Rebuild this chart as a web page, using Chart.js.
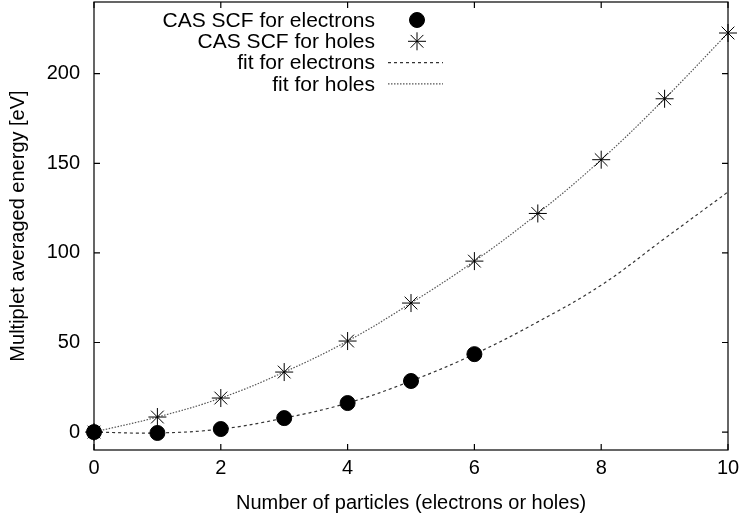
<!DOCTYPE html>
<html>
<head>
<meta charset="utf-8">
<script src="https://cdn.jsdelivr.net/npm/chart.js@4"></script>
<style>
  html, body { margin: 0; padding: 0; background: #fff; }
  #wrap { width: 741px; height: 520px; }
</style>
</head>
<body>
<div id="wrap"><canvas id="chart"></canvas></div>
<script>
// values
const particles = [0, 1, 2, 3, 4, 5, 6, 7, 8, 9, 10];
const electronCas = [0, -0.5, 1.7, 7.8, 16.2, 28.5, 43.5];
const holeCas = [0, 8.4, 19, 33.5, 50.8, 72, 95.4, 122, 152, 186, 222.7];
const electronFit = [0, -0.5, 1.7, 7.8, 16.2, 28.5, 43.5, 61.5, 82, 108, 134];
const holeFit = [0, 8.4, 19, 33.5, 50.8, 72, 95.4, 122, 152, 186, 222.7];
const xTicks = [0, 2, 4, 6, 8, 10];
const yTicks = [0, 50, 100, 150, 200];
const legendLabels = ["CAS SCF for electrons", "CAS SCF for holes", "fit for electrons", "fit for holes"];

const FONT = "'Liberation Sans', Arial, sans-serif";

function pts(ys) {
    return ys.map((y, i) => ({x: particles[i], y: y}));
}

function noPad(s) {
    s.paddingTop = 0; s.paddingBottom = 0;
    s.paddingLeft = 0; s.paddingRight = 0;
}

// gnuplot-ish frame with inward ticks on all four sides
const framePlugin = {
    id: "frame",
    afterDraw(chart) {
        const {ctx, chartArea: a, scales} = chart;
        ctx.save();
        ctx.strokeStyle = "#000";
        ctx.lineWidth = 1.2;
        ctx.strokeRect(a.left, a.top, a.right - a.left, a.bottom - a.top);
        ctx.beginPath();
        xTicks.forEach(v => {
            const px = scales.x.getPixelForValue(v);
            ctx.moveTo(px, a.bottom); ctx.lineTo(px, a.bottom - 6);
            ctx.moveTo(px, a.top); ctx.lineTo(px, a.top + 6);
        });
        yTicks.forEach(v => {
            const py = scales.y.getPixelForValue(v);
            ctx.moveTo(a.left, py); ctx.lineTo(a.left + 6, py);
            ctx.moveTo(a.right, py); ctx.lineTo(a.right - 6, py);
        });
        ctx.stroke();
        ctx.restore();
    }
};

// legend: right-aligned text, sample to its right
const keyPlugin = {
    id: "key",
    afterDraw(chart) {
        const ctx = chart.ctx;
        const ds = chart.data.datasets;
        const textRight = 375, sampleL = 388, sampleR = 443, mid = 417;
        ctx.save();
        ctx.font = "21px " + FONT;
        ctx.textAlign = "right";
        ctx.textBaseline = "middle";
        legendLabels.forEach((lab, i) => {
            const y = 20 + i * 21.3;
            ctx.fillStyle = "#000";
            ctx.fillText(lab, textRight, y + 1);
            const d = ds[i];
            if (d.showLine) {
                ctx.beginPath();
                ctx.strokeStyle = d.borderColor;
                ctx.lineWidth = d.borderWidth;
                ctx.setLineDash(d.borderDash);
                ctx.moveTo(sampleL, y); ctx.lineTo(sampleR, y);
                ctx.stroke();
                ctx.setLineDash([]);
            } else {
                ctx.fillStyle = "#000";
                ctx.strokeStyle = "#000";
                ctx.lineWidth = d.borderWidth;
                Chart.helpers.drawPoint(ctx, {
                    pointStyle: d.pointStyle, radius: d.pointRadius,
                    borderWidth: d.borderWidth, rotation: 0
                }, mid, y);
            }
        });
        ctx.restore();
    }
};

new Chart(document.getElementById("chart"), {
    type: "scatter",
    data: {
        datasets: [
            {
                label: legendLabels[0], data: pts(electronCas), showLine: false,
                pointStyle: "circle", pointRadius: 7.5, pointHoverRadius: 7.5,
                backgroundColor: "#000", borderColor: "#000", borderWidth: 1,
                clip: false, order: 0
            },
            {
                label: legendLabels[1], data: pts(holeCas), showLine: false,
                pointStyle: "star", pointRadius: 9, pointHoverRadius: 9,
                backgroundColor: "#000", borderColor: "#000", borderWidth: 1,
                clip: false, order: 0
            },
            {
                label: legendLabels[2], data: pts(electronFit), showLine: true,
                pointRadius: 0, borderColor: "#333", borderWidth: 1.2,
                borderDash: [3, 3], tension: 0.4, order: 1
            },
            {
                label: legendLabels[3], data: pts(holeFit), showLine: true,
                pointRadius: 0, borderColor: "#555", borderWidth: 1.2,
                borderDash: [1.5, 1.5], tension: 0.4, order: 1
            }
        ]
    },
    options: {
        responsive: true,
        maintainAspectRatio: false,
        animation: false,
        layout: {autoPadding: false, padding: {left: 0, right: 13, top: 2, bottom: 0}},
        plugins: {legend: {display: false}, tooltip: {enabled: false}},
        scales: {
            x: {
                type: "linear", min: 0, max: 10,
                afterBuildTicks: s => { s.ticks = xTicks.map(v => ({value: v})); },
                afterFit: s => { s.height = 70; noPad(s); },
                grid: {display: false, drawTicks: false},
                border: {display: false},
                ticks: {color: "#000", padding: 6, font: {family: FONT, size: 20}},
                title: {display: true, text: "Number of particles (electrons or holes)",
                        color: "#000", padding: {top: 2, bottom: 5}, font: {family: FONT, size: 20}}
            },
            y: {
                type: "linear", min: -10, max: 240,
                afterBuildTicks: s => { s.ticks = yTicks.map(v => ({value: v})); },
                afterFit: s => { s.width = 94; noPad(s); },
                grid: {display: false, drawTicks: false},
                border: {display: false},
                ticks: {color: "#000", padding: 14, font: {family: FONT, size: 20}},
                title: {display: true, text: "Multiplet averaged energy [eV]",
                        color: "#000", padding: {top: 6, bottom: 0}, font: {family: FONT, size: 20}}
            }
        }
    },
    plugins: [framePlugin, keyPlugin]
});
</script>
</body>
</html>
